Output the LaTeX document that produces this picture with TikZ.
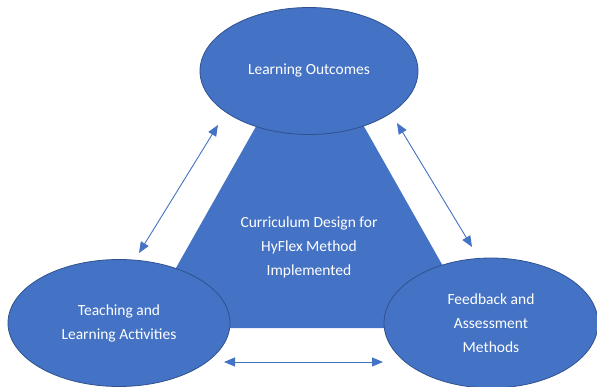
\documentclass[tikz,border=0pt]{standalone}
\usepackage{fontspec}
\setmainfont{Carlito}
\usetikzlibrary{arrows.meta,shapes.geometric}
\definecolor{hyblue}{HTML}{4472C4}
\definecolor{hyedge}{HTML}{2F528F}

\begin{document}
\begin{tikzpicture}[x=1pt,y=-1pt]
	\tikzstyle{every node}=[text=white,align=center,font=\fontsize{15.5}{24}\selectfont]
	\tikzstyle{goal}=[ellipse,draw=hyedge,fill=hyblue,line width=0.8pt,inner sep=0pt,minimum width=218pt,minimum height=127pt]
	\tikzstyle{link}=[hyblue,line width=0.9pt,{Triangle[length=11pt,width=9pt]}-{Triangle[length=11pt,width=9pt]}]

	\useasboundingbox (0,0) rectangle (597,387);

	% the triangle behind the three ovals
	\fill[hyblue] (310,31) -- (478,328) -- (142,328) -- cycle;
	\node (core) at (309,247) {Curriculum Design for\\HyFlex Method\\Implemented};

	\node[goal] (outcomes) at (309,71) {Learning Outcomes};
	\node[goal,minimum width=222pt] (activities) at (119,323) {Teaching and\\Learning Activities};
	\node[goal,minimum width=214pt,minimum height=130pt] (feedback) at (491,323) {Feedback and\\Assessment\\Methods};

	\coordinate (lefttop) at (218,125);
	\coordinate (leftbot) at (139,253);
	\coordinate (righttop) at (397,123);
	\coordinate (rightbot) at (472,247);
	\coordinate (botleft) at (224,362);
	\coordinate (botright) at (383,362);

	\draw[link] (lefttop) -- (leftbot);
	\draw[link] (righttop) -- (rightbot);
	\draw[link] (botleft) -- (botright);
\end{tikzpicture}
\end{document}
